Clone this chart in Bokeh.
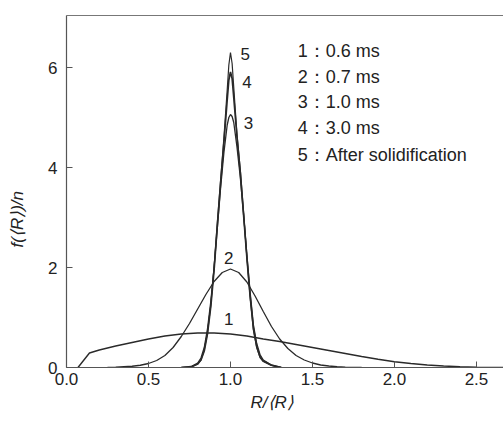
from bokeh.plotting import figure
from bokeh.models import Range1d, FixedTicker, PrintfTickFormatter, LinearAxis, Title, ColumnDataSource
from bokeh.core.properties import value
from bokeh.embed import file_html
from bokeh.resources import INLINE

# curve 1: 0.6 ms
x1 = [0.07, 0.14, 0.2, 0.3, 0.4, 0.5, 0.6, 0.7, 0.8, 0.9, 1.0, 1.1, 1.2, 1.3, 1.4, 1.5,
      1.6, 1.7, 1.8, 1.9, 2.0, 2.1, 2.2, 2.3, 2.4, 2.5, 2.665]
y1 = [0.0, 0.29, 0.35, 0.43, 0.50, 0.57, 0.63, 0.67, 0.69, 0.69, 0.67, 0.63, 0.57, 0.52,
      0.46, 0.40, 0.34, 0.28, 0.22, 0.165, 0.115, 0.08, 0.05, 0.03, 0.015, 0.008, 0.002]
# curve 2: 0.7 ms
x2 = [0.25, 0.30, 0.35, 0.40, 0.45, 0.50, 0.55, 0.60, 0.65, 0.70, 0.75, 0.80, 0.85, 0.90,
      0.95, 1.00, 1.05, 1.10, 1.15, 1.20, 1.25, 1.30, 1.35, 1.40, 1.45, 1.50, 1.55, 1.60,
      1.65, 1.70, 1.80]
y2 = [0.0, 0.005, 0.015, 0.025, 0.045, 0.08, 0.14, 0.24, 0.40, 0.62, 0.88, 1.17, 1.46, 1.72,
      1.90, 1.97, 1.90, 1.71, 1.43, 1.12, 0.82, 0.57, 0.38, 0.24, 0.15, 0.09, 0.05, 0.03,
      0.015, 0.007, 0.0]
# curves 3, 4, 5
xn = [0.70, 0.76, 0.80, 0.82, 0.84, 0.86, 0.88, 0.90, 0.92, 0.94, 0.96, 0.98, 0.99, 1.00,
      1.01, 1.02, 1.04, 1.06, 1.08, 1.10, 1.12, 1.14, 1.16, 1.18, 1.20, 1.25, 1.31]
y3 = [0.0, 0.02, 0.09, 0.19, 0.40, 0.78, 1.32, 2.0, 2.8, 3.6, 4.3, 4.85, 5.0, 5.06,
      5.02, 4.9, 4.4, 3.8, 3.05, 2.25, 1.5, 0.85, 0.48, 0.26, 0.15, 0.05, 0.0]
y4 = [0.0, 0.01, 0.07, 0.15, 0.33, 0.68, 1.22, 1.95, 2.85, 3.7, 4.5, 5.35, 5.75, 5.91,
      5.78, 5.4, 4.6, 3.9, 3.05, 2.2, 1.42, 0.78, 0.42, 0.22, 0.13, 0.045, 0.0]
y5 = [0.0, 0.01, 0.07, 0.15, 0.35, 0.70, 1.25, 2.0, 2.9, 3.75, 4.6, 5.55, 6.05, 6.3,
      6.08, 5.6, 4.65, 3.95, 3.1, 2.2, 1.4, 0.75, 0.40, 0.20, 0.12, 0.04, 0.0]

x_ticks = [0.0, 0.5, 1.0, 1.5, 2.0, 2.5]
y_ticks = [0, 2, 4, 6]

curve_nums = ["5", "4", "3", "2", "1"]
num_x = [1.09, 1.10, 1.11, 0.99, 0.99]
num_y = [6.28, 5.72, 4.90, 2.20, 0.98]

legend_texts = ["1：0.6 ms", "2：0.7 ms", "3：1.0 ms", "4：3.0 ms", "5：After solidification"]
leg_x = [1.41] * 5
leg_y = [6.34, 5.82, 5.32, 4.80, 4.26]

FONT = "Liberation Sans"
LC = "#2a2a2a"
AC = "#555555"

p = figure(width=503, height=421, output_backend="svg", toolbar_location=None,
           x_range=Range1d(0, 2.665), y_range=Range1d(0, 7.04),
           min_border_left=66, min_border_right=0, min_border_top=15, min_border_bottom=54)
p.outline_line_color = None
p.xgrid.grid_line_color = None
p.ygrid.grid_line_color = None

for xs, ys, w in [(x1, y1, 1.4), (x2, y2, 1.3), (xn, y3, 1.3), (xn, y4, 1.7), (xn, y5, 1.2)]:
    p.line(x=xs, y=ys, line_color=LC, line_width=w)

for ax in (p.xaxis[0], p.yaxis[0]):
    ax.axis_line_color = AC
    ax.axis_line_width = 1.2
    ax.major_tick_line_color = AC
    ax.major_tick_in = 6
    ax.major_tick_out = 0
    ax.minor_tick_line_color = None
    ax.major_label_text_font = FONT
    ax.major_label_text_font_size = "17px"
    ax.major_label_text_color = "#222222"

p.xaxis[0].ticker = FixedTicker(ticks=x_ticks)
p.xaxis[0].formatter = PrintfTickFormatter(format="%.1f")
p.xaxis[0].major_label_standoff = 5
p.yaxis[0].ticker = FixedTicker(ticks=y_ticks)
p.yaxis[0].formatter = PrintfTickFormatter(format="%d")
p.yaxis[0].major_label_standoff = 9
# blank axis label only reserves a little room so the title sits further left
p.yaxis[0].axis_label = " "
p.yaxis[0].axis_label_text_font_size = "4px"
p.yaxis[0].axis_label_standoff = 8

top = LinearAxis(ticker=FixedTicker(ticks=[]), major_label_text_font_size="0px",
                 major_tick_line_color=None, minor_tick_line_color=None,
                 axis_line_color="#777777", axis_line_width=1.2, major_label_standoff=0)
p.add_layout(top, "above")

src_n = ColumnDataSource(dict(x=num_x, y=num_y, t=curve_nums))
p.text(x="x", y="y", text="t", source=src_n, text_font=value(FONT), text_font_size="17px",
       text_align="center", text_baseline="middle", text_color="#222222")

src_l = ColumnDataSource(dict(x=leg_x, y=leg_y, t=legend_texts))
p.text(x="x", y="y", text="t", source=src_l, text_font=value(FONT), text_font_size="18px",
       text_align="left", text_baseline="middle", text_color="#222222")

p.add_layout(Title(text="R/⟨R⟩", align="left", offset=184, text_font=FONT,
                   text_font_style="italic", text_font_size="17px", text_color="#222222",
                   standoff=6), "below")
p.add_layout(Title(text="f(⟨R⟩)/n", align="left", offset=120, text_font=FONT,
                   text_font_style="italic", text_font_size="17px", text_color="#222222",
                   standoff=6), "left")

open("out.html", "w").write(file_html(p, INLINE))
